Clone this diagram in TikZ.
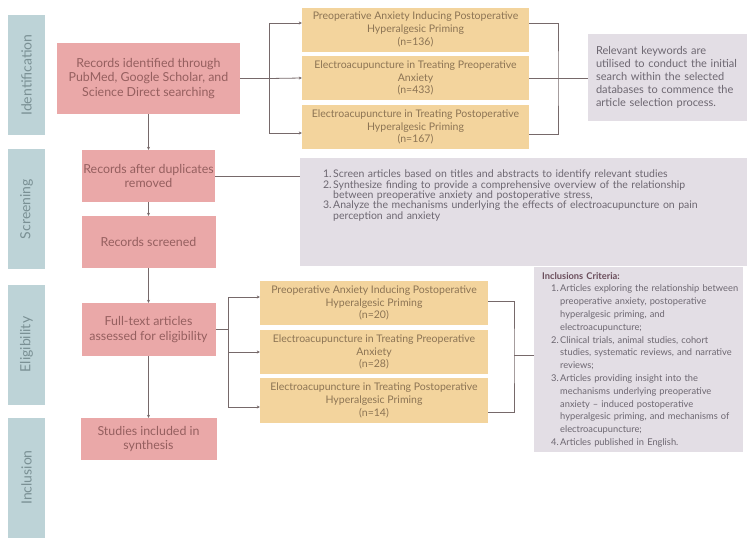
\documentclass[tikz,border=0pt]{standalone}
\usepackage{fontspec}
\setmainfont{Lato}
\usetikzlibrary{calc,positioning,arrows.meta}
\definecolor{phasefill}{HTML}{BDD3D7}
\definecolor{phasetext}{HTML}{7A9094}
\definecolor{pinkfill}{HTML}{EAA8A8}
\definecolor{pinktext}{HTML}{955F5F}
\definecolor{yelfill}{HTML}{F3D49D}
\definecolor{yeltext}{HTML}{8C7454}
\definecolor{notefill}{HTML}{E3DEE5}
\definecolor{notetext}{HTML}{6D6771}
\definecolor{notehead}{HTML}{6A4D5B}
\definecolor{linecol}{HTML}{76696A}
\newcommand{\numitem}[3]{\par\hangindent=#1\hangafter=1\noindent\makebox[#1][r]{#2\hspace{1.5pt}}#3}
\tikzset{
  phase/.style={fill=phasefill,text=phasetext,rotate=90,minimum width=120pt,minimum height=37pt,inner sep=0pt,font=\fontsize{14}{16}\selectfont},
  recbox/.style={fill=pinkfill,text=pinktext,align=center,inner sep=0pt,font=\fontsize{12.4}{14.5}\selectfont},
  topicbox/.style={fill=yelfill,text=yeltext,align=center,inner sep=0pt,minimum height=44pt,font=\fontsize{10.5}{12.8}\selectfont},
  notebox/.style={fill=notefill,text=notetext,align=left,inner xsep=8pt},
  link/.style={draw=linecol,line width=0.8pt},
}
\begin{document}
\begin{tikzpicture}[x=1pt,y=-1pt,>={Stealth[length=3pt,width=3pt]}]
\useasboundingbox (0,0) rectangle (752,544);

% phases on the left
\foreach \lab/\yc in {Identification/75,Screening/209,Eligibility/344.5,Inclusion/477.5}
  \node[phase] (ph-\lab) at (26.5,\yc) {\lab};

% main column
\node[recbox,minimum width=183pt,minimum height=71pt] (idrec) at (148.5,78.5) {Records identified through\\PubMed, Google Scholar, and\\Science Direct searching};
\node[recbox,minimum width=133pt,minimum height=52pt] (dup) at (148.5,176) {Records after duplicates\\removed};
\node[recbox,minimum width=134pt,minimum height=52pt] (scr) at (148.5,242) {Records screened};
\node[recbox,minimum width=134pt,minimum height=53pt] (full) at (148.5,329.5) {Full-text articles\\assessed for eligibility};
\node[recbox,minimum width=136pt,minimum height=42pt] (incl) at (148.5,439) {Studies included in\\synthesis};

% topics found by the search
\node[topicbox,minimum width=227pt] (ya) at (415.5,29.5) {Preoperative Anxiety Inducing Postoperative\\Hyperalgesic Priming\\(n=136)};
\node[topicbox,minimum width=227pt] (yb) at (415.5,78) {Electroacupuncture in Treating Preoperative\\Anxiety\\(n=433)};
\node[topicbox,minimum width=227pt] (yc) at (415.5,127) {Electroacupuncture in Treating Postoperative\\Hyperalgesic Priming\\(n=167)};

% topics kept after eligibility
\node[topicbox,minimum width=228pt] (ea) at (374,303) {Preoperative Anxiety Inducing Postoperative\\Hyperalgesic Priming\\(n=20)};
\node[topicbox,minimum width=228pt] (eb) at (374,352) {Electroacupuncture in Treating Preoperative\\Anxiety\\(n=28)};
\node[topicbox,minimum width=228pt,minimum height=45pt] (ec) at (374,400.5) {Electroacupuncture in Treating Postoperative\\Hyperalgesic Priming\\(n=14)};

% notes
\node[notebox,text width=143pt,minimum height=87pt,font=\fontsize{11}{13.1}\selectfont] (idnote) at (667.5,77.5)
  {Relevant keywords are\\utilised to conduct the initial\\search within the selected\\databases to commence the\\article selection process.};
\node[notebox,anchor=north west,inner xsep=13pt,inner ysep=9pt,text width=421pt,font=\fontsize{10.5}{10.4}\selectfont] (scrnote) at (300,158)
  {\numitem{20pt}{1.}{Screen articles based on titles and abstracts to identify relevant studies}
   \numitem{20pt}{2.}{Synthesize finding to provide a comprehensive overview of the relationship\newline between preoperative anxiety and postoperative stress,}
   \numitem{20pt}{3.}{Analyze the mechanisms underlying the effects of electroacupuncture on pain\newline perception and anxiety}\par\vspace*{36pt}};
\node[notebox,anchor=north west,inner xsep=2pt,inner ysep=5pt,text width=205pt,minimum height=185pt,font=\fontsize{9.3}{12.8}\selectfont] (inclnote) at (534,267)
  {\hyphenpenalty=10000\exhyphenpenalty=10000%
   \hspace*{6pt}{\bfseries\color{notehead}Inclusions Criteria:}
   \numitem{24pt}{1.}{Articles exploring the relationship between\newline preoperative anxiety, postoperative\newline hyperalgesic priming, and\newline electroacupuncture;}
   \numitem{24pt}{2.}{Clinical trials, animal studies, cohort\newline studies, systematic reviews, and narrative\newline reviews;}
   \numitem{24pt}{3.}{Articles providing insight into the\newline mechanisms underlying preoperative\newline anxiety -- induced postoperative\newline hyperalgesic priming, and mechanisms of\newline electroacupuncture;}
   \numitem{24pt}{4.}{Articles published in English.}};

% flow down the column
\draw[link,->] (idrec) -- (dup);
\draw[link,->] (dup) -- (scr);
\draw[link,->] (scr) -- (full);
\draw[link,->] (full) -- (incl);

% identification branches
\coordinate (jl) at (269,78.5);
\coordinate (jr) at (558,78);
\draw[link] (idrec.east) -- (jl);
\draw[link,->] (jl) |- ([yshift=6.5pt]ya.west);
\draw[link,->] (jl) -- (yb.west);
\draw[link,->] (jl) |- ([yshift=-6pt]yc.west);
\draw[link] ([yshift=6.5pt]ya.east) -| (jr) |- ([yshift=-7pt]yc.east);
\draw[link] (yb.east) -- (yb.east -| idnote.west);

% screening note
\draw[link] (dup.east) -- (dup.east -| scrnote.west);

% eligibility branches
\coordinate (jl2) at (228,329.5);
\coordinate (jr2) at (514,355);
\draw[link] (full.east) -- (jl2);
\draw[link,->] (jl2) |- ([yshift=6pt]ea.west);
\draw[link,->] (jl2) |- (eb.west);
\draw[link,->] (jl2) |- ([yshift=-6.5pt]ec.west);
\draw[link] ([yshift=2pt]ea.east) -| (jr2) |- ([yshift=-11.5pt]ec.east);
\draw[link] (jr2) -- (jr2 -| inclnote.west);
\end{tikzpicture}
\end{document}
